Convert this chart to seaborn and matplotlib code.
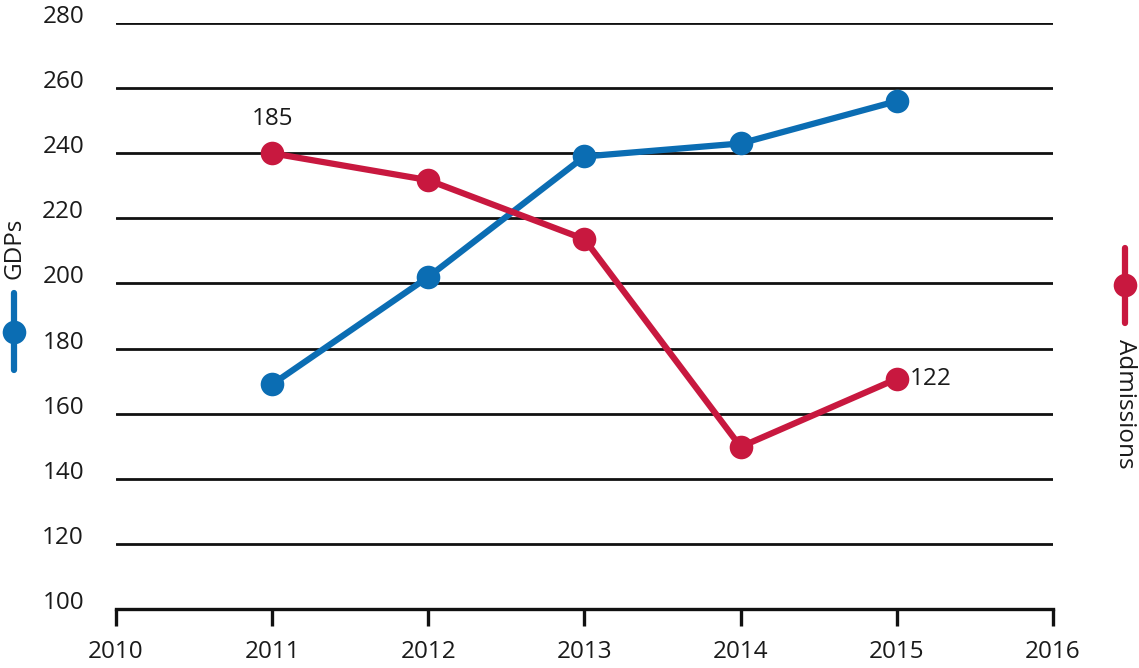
import numpy as np
import pandas as pd
import matplotlib
matplotlib.use("Agg")
import matplotlib.pyplot as plt
import matplotlib.transforms as mtransforms
from matplotlib.lines import Line2D
import seaborn as sns

# data
years = [2011, 2012, 2013, 2014, 2015]
gdps = [169, 202, 239, 243, 256]
admissions = [185, 177.5, 161, 103, 122]

blue = "#0b6db3"
red = "#c8183f"

sns.set_style("white")
plt.rcParams["font.family"] = ["Open Sans", "DejaVu Sans"]
plt.rcParams["text.color"] = "#1a1a1a"
plt.rcParams["xtick.color"] = "#1a1a1a"
plt.rcParams["ytick.color"] = "#1a1a1a"

df = pd.DataFrame({"Year": years, "GDPs": gdps, "Admissions": admissions})

fig = plt.figure(figsize=(11.39, 6.68), dpi=100)
ax = fig.add_axes([0.1018, 0.0883, 0.8227, 0.8773])
ax2 = ax.twinx()

sns.lineplot(data=df, x="Year", y="GDPs", ax=ax, color=blue, lw=4.5,
             marker="o", markersize=17, markeredgewidth=0, zorder=3)
sns.lineplot(data=df, x="Year", y="Admissions", ax=ax2, color=red, lw=4.5,
             marker="o", markersize=17, markeredgewidth=0, zorder=3)

ax.set_xlim(2010, 2016)
ax.set_ylim(100, 280)
ax2.set_ylim(57.7, 221.4)

# grid lines
for v in range(120, 281, 20):
    ax.axhline(v, color="#111111", lw=2.0, zorder=1)

for a in (ax, ax2):
    for s in a.spines.values():
        s.set_visible(False)
ax.spines["bottom"].set_visible(True)
ax.spines["bottom"].set_color("#111111")
ax.spines["bottom"].set_linewidth(2.4)

ax.set_xticks(range(2010, 2017))
ax.set_yticks(range(100, 281, 20))
ax.tick_params(axis="x", direction="out", length=12, width=2.4, color="#111111",
               labelsize=17.5, pad=10, bottom=True)
ax.tick_params(axis="y", length=0, labelsize=17.5, pad=23, left=False)
ax2.set_yticks([])
ax.set_xlabel("")
ax.set_ylabel("")
ax2.set_ylabel("")

# nudge y tick labels up a bit like the reference
off = mtransforms.ScaledTranslation(0, 9 / 100, fig.dpi_scale_trans)
for lab in ax.get_yticklabels():
    lab.set_transform(lab.get_transform() + off)

# point labels
ax2.annotate(f"{admissions[0]:.0f}", (years[0], admissions[0]), xytext=(0, 16),
             textcoords="offset points", ha="center", va="bottom", fontsize=17.5)
ax2.annotate(f"{admissions[-1]:.0f}", (years[-1], admissions[-1]), xytext=(9, 0),
             textcoords="offset points", ha="left", va="center", fontsize=17.5)

# side legends
fig.add_artist(Line2D([14 / 1139, 14 / 1139], [1 - 293 / 668, 1 - 370 / 668],
                      transform=fig.transFigure, color=blue, lw=4.5))
fig.add_artist(Line2D([14 / 1139], [1 - 332 / 668], transform=fig.transFigure,
                      color=blue, marker="o", markersize=17, markeredgewidth=0))
fig.text(14 / 1139, 1 - 248 / 668, "GDPs", rotation=90, ha="center", va="center",
         fontsize=17.5)

fig.add_artist(Line2D([1125 / 1139, 1125 / 1139], [1 - 248 / 668, 1 - 323 / 668],
                      transform=fig.transFigure, color=red, lw=4.5))
fig.add_artist(Line2D([1125 / 1139], [1 - 285 / 668], transform=fig.transFigure,
                      color=red, marker="o", markersize=17, markeredgewidth=0))
fig.text(1125 / 1139, 1 - 404 / 668, "Admissions", rotation=270, ha="center",
         va="center", fontsize=17.5)

fig.savefig("out.png", dpi=100)
